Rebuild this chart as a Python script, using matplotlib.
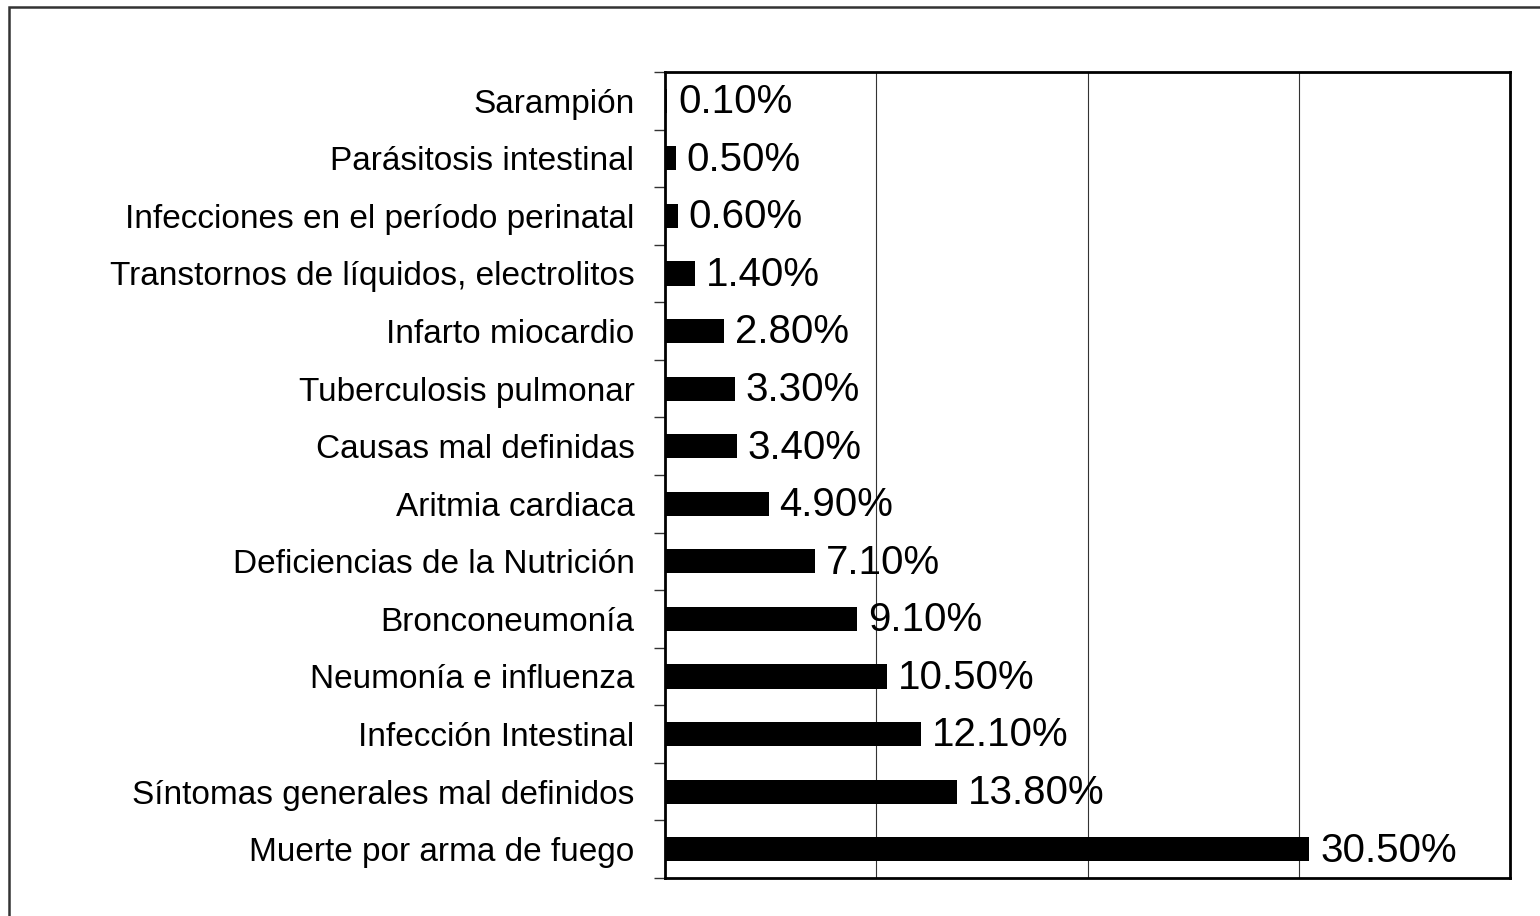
import matplotlib.pyplot as plt
from matplotlib.patches import Rectangle

plt.rcParams['font.family'] = ['Liberation Sans', 'DejaVu Sans']

# causas de muerte, de abajo hacia arriba
causas = [
    "Muerte por arma de fuego",
    "Síntomas generales mal definidos",
    "Infección Intestinal",
    "Neumonía e influenza",
    "Bronconeumonía",
    "Deficiencias de la Nutrición",
    "Aritmia cardiaca",
    "Causas mal definidas",
    "Tuberculosis pulmonar",
    "Infarto miocardio",
    "Transtornos de líquidos, electrolitos",
    "Infecciones en el período perinatal",
    "Parásitosis intestinal",
    "Sarampión",
]
porcentajes = [30.5, 13.8, 12.1, 10.5, 9.1, 7.1, 4.9, 3.4, 3.3, 2.8, 1.4, 0.6, 0.5, 0.1]
grid_x = [10, 20, 30]

fig = plt.figure(figsize=(15.4, 9.16), dpi=100)
ax = fig.add_axes([665 / 1540, 1 - 878 / 916, 845 / 1540, 806 / 916])

pos = list(range(len(causas)))
bars = ax.barh(pos, porcentajes, height=0.42, color='black', zorder=3)

for b, v in zip(bars, porcentajes):
    ax.annotate(f'{v:.2f}%', xy=(b.get_width(), b.get_y() + b.get_height() / 2),
                xytext=(8, -1), textcoords='offset points',
                ha='left', va='center', fontsize=29, zorder=4)

ax.set_xlim(0, 40)
ax.set_ylim(-0.5, len(causas) - 0.5)
ax.set_xticks(grid_x)
ax.tick_params(axis='x', length=0, labelbottom=False)
ax.xaxis.grid(True, color='#333333', linewidth=0.8, zorder=0)

ax.set_yticks(pos)
ax.set_yticklabels(causas, fontsize=24)
ax.set_yticks([p - 0.5 for p in pos] + [len(causas) - 0.5], minor=True)
ax.tick_params(axis='y', which='major', length=0, pad=22)
ax.tick_params(axis='y', which='minor', length=8, width=1.0, color='#333333')

for s in ax.spines.values():
    s.set_linewidth(2.0)
    s.set_color('black')

# marco exterior de la figura (recortado abajo y a la derecha)
fig.patches.append(Rectangle((8.5 / 1540, -0.05), 1.1, 1.05 - 6.5 / 916,
                             transform=fig.transFigure, fill=False,
                             edgecolor='#333333', linewidth=1.8))

fig.savefig('out.png', dpi=100)
